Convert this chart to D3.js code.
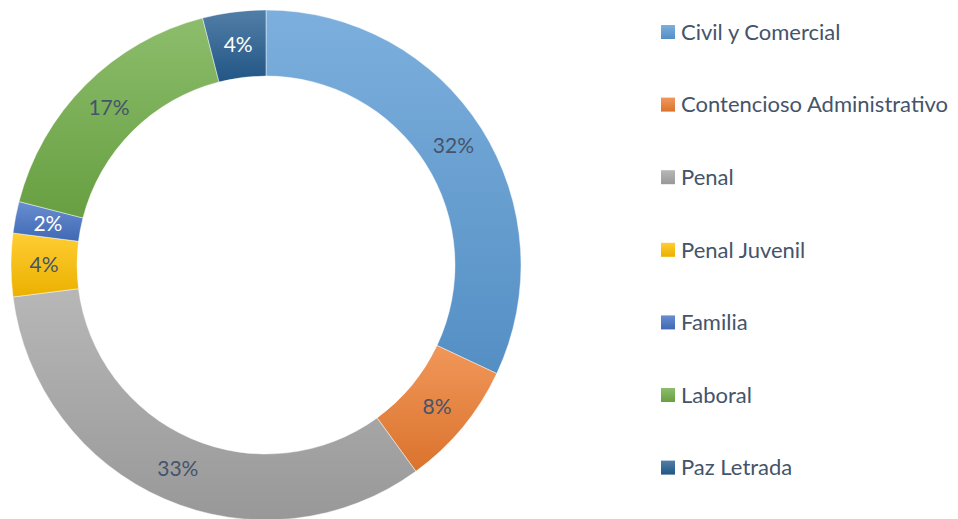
<!DOCTYPE html>
<html><head><meta charset="utf-8">
<script src="https://cdn.jsdelivr.net/npm/d3@7"></script>
<style>body{margin:0;background:#fff}svg{display:block}</style>
</head><body>
<svg id="c" width="958" height="519"></svg>
<script>
const categories = ["Civil y Comercial","Contencioso Administrativo","Penal","Penal Juvenil","Familia","Laboral","Paz Letrada"];
const values = [32, 8, 33, 4, 2, 17, 4];
const baseColors = ["#5b9bd5","#ed7d31","#a5a5a5","#ffc000","#4472c4","#70ad47","#255e91"];
const labelColors = ["#44546a","#44546a","#44546a","#44546a","#ffffff","#44546a","#ffffff"];

const svg = d3.select("#c");
const defs = svg.append("defs");
baseColors.forEach((c,i)=>{
  const g = defs.append("linearGradient").attr("id","g"+i).attr("x1",0).attr("y1",0).attr("x2",0).attr("y2",1);
  g.append("stop").attr("offset","0%").attr("stop-color", d3.interpolateRgb(c,"#ffffff")(0.2));
  g.append("stop").attr("offset","100%").attr("stop-color", d3.interpolateRgb(c,"#000000")(0.08));
});
baseColors.forEach((c,i)=>{
  const g = defs.append("linearGradient").attr("id","lg"+i).attr("x1",0).attr("y1",0).attr("x2",0).attr("y2",1);
  g.append("stop").attr("offset","0%").attr("stop-color", d3.interpolateRgb(c,"#ffffff")(0.2));
  g.append("stop").attr("offset","100%").attr("stop-color", d3.interpolateRgb(c,"#000000")(0.08));
});

const FONT = "Lato, 'Open Sans', sans-serif";
const cx = 266, cy = 265, R = 255, r = 189;
const pie = d3.pie().sort(null).value(d=>d.v);
const arcs = pie(values.map((v,i)=>({v,i})));
const arc = d3.arc().innerRadius(r).outerRadius(R);
const labelArc = d3.arc().innerRadius((r+R)/2).outerRadius((r+R)/2);
const g = svg.append("g").attr("transform",`translate(${cx},${cy})`);
g.selectAll("path").data(arcs).join("path")
  .attr("d",arc)
  .attr("fill",d=>`url(#g${d.data.i})`)
  .attr("stroke","#ffffff").attr("stroke-opacity",0.6).attr("stroke-width",0.75);
g.selectAll("text").data(arcs).join("text")
  .attr("transform",d=>`translate(${labelArc.centroid(d)})`)
  .attr("text-anchor","middle").attr("dy","0.35em")
  .attr("font-family",FONT).attr("font-size",21)
  .attr("fill",d=>labelColors[d.data.i])
  .text(d=>d.data.v+"%");

const leg = svg.append("g");
const ly0 = 32, lstep = 72.6;
categories.forEach((c,i)=>{
  const y = ly0 + i*lstep;
  leg.append("rect").attr("x",661).attr("y",y-7).attr("width",14).attr("height",14).attr("fill",`url(#lg${i})`);
  leg.append("text").attr("x",681).attr("y",y).attr("dy","0.35em")
    .attr("font-family",FONT).attr("font-size",22)
    .attr("fill","#44546a").text(c);
});
</script>
</body></html>
